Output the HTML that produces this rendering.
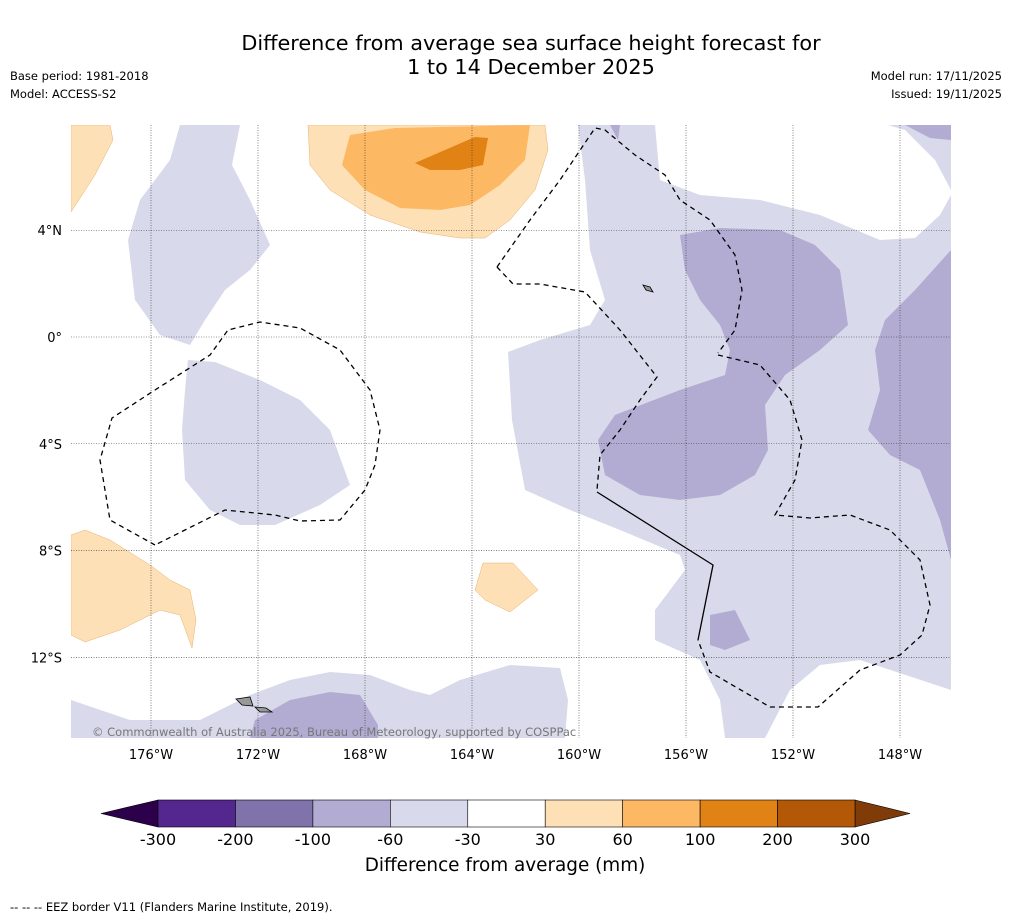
<!DOCTYPE html>
<html><head><meta charset="utf-8"><style>
body{margin:0;background:#fff;font-family:"DejaVu Sans","Liberation Sans",sans-serif}
svg{display:block;font-family:"DejaVu Sans","Liberation Sans",sans-serif}
</style></head><body>
<svg id="chart" width="1011" height="919" viewBox="0 0 1011 919" xmlns="http://www.w3.org/2000/svg">
<rect width="1011" height="919" fill="#fff"/>
<text x="531" y="50" font-size="20.8" text-anchor="middle">Difference from average sea surface height forecast for</text>
<text x="531" y="74" font-size="20.8" text-anchor="middle">1 to 14 December 2025</text>
<text x="10" y="80" font-size="11.5">Base period: 1981-2018</text>
<text x="10" y="98" font-size="11.5">Model: ACCESS-S2</text>
<text x="1002" y="80" font-size="11.5" text-anchor="end">Model run: 17/11/2025</text>
<text x="1002" y="98" font-size="11.5" text-anchor="end">Issued: 19/11/2025</text>
<defs><clipPath id="mc"><rect x="71" y="125" width="880" height="613"/></clipPath></defs>
<g id="map" clip-path="url(#mc)">
<g fill="#d8daeb">
<polygon points="155,125 240,125 232,165 250,200 270,245 250,270 225,290 205,320 190,345 160,335 135,300 128,240 140,200 170,160 180,125"/>
<polygon points="188,360 215,362 260,380 300,400 330,430 350,485 320,505 275,525 240,525 210,510 185,480 182,430 185,390"/>
<polygon fill-rule="evenodd" points="578,125 585,180 590,250 605,300 590,325 540,340 508,352 512,420 525,490 570,510 620,530 680,555 685,570 655,610 655,640 700,660 720,700 725,738 765,738 790,690 820,665 860,660 951,690 951,195 940,215 915,238 880,240 820,215 760,200 700,195 660,180 655,125 M745,555 790,520 850,500 880,505 905,540 910,570 900,592 850,595 815,615 790,605 760,580 745,560 Z"/>
<polygon points="888,125 951,125 951,190 935,160 905,130"/>
<polygon points="71,700 130,720 200,720 250,695 290,680 330,672 370,675 410,690 430,695 460,680 510,665 560,668 568,700 565,738 71,738"/>
</g>
<g fill="#b2abd2">
<polygon points="680,235 720,228 780,230 815,245 840,270 848,325 820,350 785,375 765,405 768,450 755,475 720,495 680,500 640,495 605,475 598,440 615,415 680,390 725,375 730,350 720,325 700,300 685,270"/>
<polygon points="951,250 915,290 885,320 875,350 880,390 868,430 890,455 920,470 940,520 951,560"/>
<polygon points="710,615 735,610 750,640 725,650 710,645"/>
<polygon points="255,720 290,700 330,692 360,695 378,725 378,738 250,738"/>
<polygon points="610,125 620,125 618,140"/>
<polygon points="905,125 951,125 951,140 930,138"/>
</g>
<g fill="#fee0b6" stroke="#e8b070" stroke-width="0.5">
<polygon points="308,125 545,125 548,150 535,190 510,220 485,238 460,238 420,232 370,215 330,190 310,165"/>
<polygon points="71,125 110,125 113,140 95,175 71,212"/>
<polygon points="71,535 85,530 110,540 150,565 170,580 190,590 196,620 192,648 180,615 160,610 120,630 85,642 71,635"/>
<polygon points="483,563 513,563 538,590 510,612 485,600 475,590"/>
</g>
<polygon fill="#fdb863" points="350,135 395,128 530,125 525,160 500,185 470,205 440,210 400,208 365,190 342,165"/>
<polygon fill="#e08214" points="415,163 445,150 475,137 488,138 483,165 460,170 430,170"/>
<g id="grid" stroke="#333" stroke-width="0.6" stroke-dasharray="1,1.5"></g>
<g fill="none" stroke="#000" stroke-width="1.3">
<polyline stroke-dasharray="5,4" points="155,545 110,520 100,460 112,418 155,390 210,355 228,330 260,322 300,328 340,350 370,390 380,430 375,465 365,490 340,520 300,521 275,515 225,510 155,545"/>
<polyline stroke-dasharray="5,4" points="497,267 530,220 560,180 595,128 605,130 635,155 665,175 680,200 710,220 735,255 742,290 735,330 718,353"/>
<polyline stroke-dasharray="5,4" points="718,355 760,365 790,400 802,440 795,480 775,515 810,518 850,515 890,530 920,560 930,605 922,635 900,655 860,670 818,707 770,707 710,672 698,640"/>
<polyline stroke-dasharray="5,4" points="497,267 513,284 540,284 585,292 620,330 657,377 640,400 620,430 600,455 597,490"/>
<polyline points="597,492 713,565 698,640"/>
</g>
<g fill="#999" stroke="#000" stroke-width="0.8">
<polygon points="236,699 250,697 253,706 242,705"/>
<polygon points="255,707 266,708 272,712 260,712"/>
<polygon points="643,285 650,287 653,292 646,290"/>
</g>
</g>
<text x="92" y="736" font-size="11.5" fill="#777">© Commonwealth of Australia 2025, Bureau of Meteorology, supported by COSPPac</text>
<g id="axes" font-size="13"></g>
<g id="cbar"></g>
<text x="505" y="871" font-size="18.4" text-anchor="middle">Difference from average (mm)</text>
<text x="10" y="911" font-size="11.5">--  --  -- EEZ border V11 (Flanders Marine Institute, 2019).</text>
</svg>
<script>
const lonTicks=[176,172,168,164,160,156,152,148];
const lonLabels=["176°W","172°W","168°W","164°W","160°W","156°W","152°W","148°W"];
const latTicks=[4,0,-4,-8,-12];
const latLabels=["4°N","0°","4°S","8°S","12°S"];
const levels=[-300,-200,-100,-60,-30,30,60,100,200,300];
const levelColors=["#54278f","#8073ac","#b2abd2","#d8daeb","#ffffff","#fee0b6","#fdb863","#e08214","#b35806"];
const NS="http://www.w3.org/2000/svg";
const xL=lon=>151+(176-lon)*26.75;
const yL=lat=>337-lat*26.69;
function mk(t,a,p){const e=document.createElementNS(NS,t);for(const k in a)e.setAttribute(k,a[k]);p.appendChild(e);return e;}
const grid=document.getElementById('grid'),axes=document.getElementById('axes');
lonTicks.forEach((v,i)=>{
 const l=mk('line',{x1:xL(v),x2:xL(v),y1:125,y2:738},grid);
 
 
 const t=mk('text',{x:xL(v),y:759,'text-anchor':'middle'},axes);t.textContent=lonLabels[i];
 
 
});
latTicks.forEach((v,i)=>{
 const l=mk('line',{x1:71,x2:951,y1:yL(v),y2:yL(v)},grid);
 
 
 const t=mk('text',{x:62,y:yL(v)+5,'text-anchor':'end'},axes);t.textContent=latLabels[i];
 
 
});
const cb=document.getElementById('cbar');
const x0=158,x1=855,cy=800,ch=27;
const cx=i=>x0+i*(x1-x0)/(levels.length-1);
const lo=mk('polygon',{points:`${x0},${cy} 101,${cy+ch/2} ${x0},${cy+ch}`,fill:'#2d004b',stroke:'#000','stroke-width':0.6},cb);


const hi=mk('polygon',{points:`${x1},${cy} 910,${cy+ch/2} ${x1},${cy+ch}`,fill:'#7f3b08',stroke:'#000','stroke-width':0.6},cb);


levelColors.forEach((c,i)=>{
 const r=mk('rect',{x:cx(i),y:cy,width:cx(i+1)-cx(i),height:ch,fill:c,stroke:'#000','stroke-width':0.6},cb);
 
 
});
levels.forEach((v,i)=>{
 const t=mk('text',{x:cx(i),y:845,'font-size':16,'text-anchor':'middle'},cb);t.textContent=v;
 
 
});
</script>
</body></html>
